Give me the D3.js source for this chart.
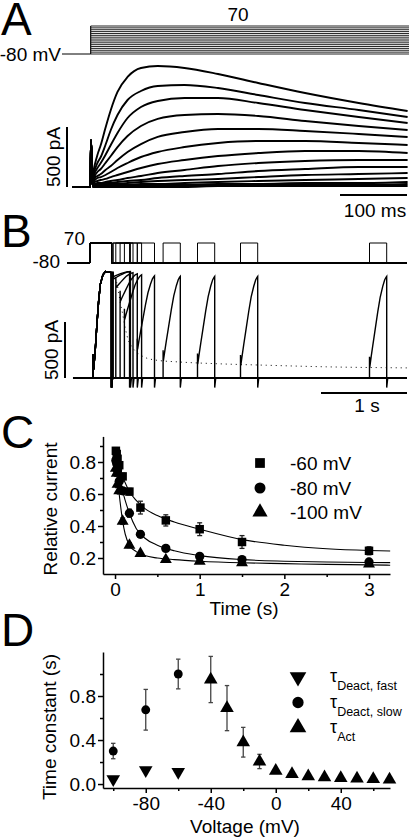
<!DOCTYPE html>
<html><head><meta charset="utf-8">
<script src="https://cdn.jsdelivr.net/npm/d3@7"></script>
<style>
html,body{margin:0;padding:0;background:#fff;}
svg{display:block;}
text{font-family:"Liberation Sans",Arial,sans-serif;fill:#000;}
</style></head><body>
<svg id="fig" width="409" height="839"></svg>
<script>
// ================= DATA =================
// Panel A: voltage-step family (mV) and current traces (pA) sampled at times (ms after step)
const aStepLevels = [-80,-70,-60,-50,-40,-30,-20,-10,0,10,20,30,40,50,60,70];
const aTimes = [3,6,10,15,22,30,40,55,75,100,140,190,250,320,400,473];
const aTraces = [
 [100,183,267,350,492,642,792,917,992,1008,992,942,867,783,700,633],
 [75,142,200,250,350,475,600,725,800,842,850,825,767,700,642,583],
 [58,117,158,200,267,350,450,575,667,717,742,742,700,642,583,533],
 [50,92,125,150,200,258,333,425,508,567,600,608,592,550,508,475],
 [42,75,92,108,142,175,225,292,358,417,458,483,483,467,442,417],
 [33,58,75,83,100,125,158,200,250,292,333,367,383,383,367,350],
 [25,42,50,58,67,83,100,125,158,192,225,258,283,300,300,283],
 [17,25,33,33,42,50,58,75,92,117,142,175,200,217,225,225],
 [17,25,25,25,33,33,42,50,58,75,92,108,133,150,167,167],
 [8,17,17,17,17,25,25,33,42,50,58,67,83,100,108,117],
 [8,8,8,8,17,17,17,17,25,25,33,42,50,58,67,75],
 [8,8,8,8,8,8,8,8,17,17,17,25,25,33,33,42],
 [0,0,0,8,8,8,8,8,8,8,8,8,17,17,17,25],
 [0,0,0,0,0,0,0,0,0,0,0,8,8,8,8,8]
];
const aPreStart = -27;      // ms
const aSpikeTime = 0.4;     // ms
const aSpikeAmp = 390;      // pA

// Panel B: double-pulse protocol (s), relative currents
const bP1Dur = 0.25, bP2Dur = 0.2;
const bIntervals = [0.01,0.02,0.05,0.1,0.15,0.3,0.6,1,1.5,3];
const bOnset = [0.95,0.93,0.85,0.72,0.55,0.27,0.16,0.13,0.115,0.1];
const bPeak  = [1.0,1.0,0.99,0.98,0.97,0.96,0.955,0.955,0.955,0.955];
const bP1T   = [0,0.033,0.036,0.042,0.06,0.08,0.1,0.12,0.15,0.18,0.25];
const bP1Rel = [0,0,0.22,0.08,0.25,0.5,0.72,0.88,0.97,1.0,0.99];
const bRiseT = [0,0.1,0.19,0.3,0.48,0.62,0.77,0.88,0.96,1];
const bRiseF = [0,0.12,0.24,0.38,0.61,0.77,0.89,0.96,0.99,1];
const bAmp = 950;   // pA, peak of first-pulse current
const bTail = -0.09;
const bFitT   = [0.06,0.08,0.1,0.13,0.16,0.19,0.25,0.35,0.5,0.8,1.2,1.8,2.5,3.44];
const bFitRel = [0.9,0.82,0.72,0.6,0.47,0.37,0.28,0.21,0.17,0.15,0.135,0.12,0.105,0.095];

// Panel C: relative current vs time (s)
const cTimes = [0.01,0.02,0.03,0.05,0.09,0.17,0.3,0.6,1,1.5,3];
const cM60 = [0.87,0.85,0.82,0.78,0.71,0.615,0.515,0.435,0.38,0.30,0.245];
const cM60Err = [0.02,0.02,0.02,0.02,0.02,0.02,0.04,0.035,0.04,0.04,0.025];
const cM80 = [0.81,0.79,0.75,0.68,0.62,0.48,0.348,0.26,0.21,0.19,0.175];
const cM80Err = [0.02,0.02,0.02,0.02,0.02,0.025,0.02,0.015,0.015,0.015,0.015];
const cM100 = [0.76,0.73,0.66,0.62,0.43,0.28,0.228,0.19,0.18,0.17,0.162];
const cM100Err = [0.02,0.02,0.02,0.02,0.02,0.015,0.01,0.01,0.01,0.01,0.01];
const cFitT   = [0,0.03,0.06,0.09,0.12,0.17,0.25,0.35,0.5,0.7,1,1.5,2,2.5,3,3.25];
const cFit60  = [0.88,0.83,0.77,0.71,0.67,0.615,0.56,0.51,0.465,0.425,0.38,0.315,0.28,0.258,0.247,0.244];
const cFit80  = [0.82,0.77,0.70,0.62,0.56,0.48,0.385,0.325,0.28,0.245,0.215,0.19,0.18,0.175,0.172,0.171];
const cFit100 = [0.78,0.69,0.55,0.43,0.35,0.28,0.24,0.215,0.2,0.19,0.18,0.17,0.165,0.16,0.157,0.155];
const cLegend = ["-60 mV","-80 mV","-100 mV"];
const cXTicks = [0,1,2,3], cXMinor = [0.5,1.5,2.5];
const cYTicks = [0.2,0.4,0.6,0.8], cYMinor = [0.3,0.5,0.7,0.9];

// Panel D: time constants (s) vs voltage (mV)
const dFastV = [-100,-80,-60];
const dFast  = [0.045,0.127,0.11];
const dSlowV = [-100,-80,-60];
const dSlow  = [0.30,0.675,1.0];
const dSlowErr = [0.07,0.185,0.135];
const dActV = [-40,-30,-20,-10,0,10,20,30,40,50,60,70];
const dAct  = [0.95,0.69,0.38,0.205,0.12,0.09,0.07,0.06,0.055,0.05,0.045,0.04];
const dActErr = [0.21,0.205,0.135,0.065,0,0,0,0,0,0,0,0];
const dLegendSub = ["Deact, fast","Deact, slow","Act"];
const dXTicks = [-80,-40,0,40], dXMinor = [-100,-60,-20,20,60];
const dYTicks = [0,0.4,0.8], dYMinor = [0.2,0.6,1.0];

// ================= DRAW =================
const svg = d3.select('#fig');
const FS = 19;

function txt(x,y,s,size,anchor){
  return svg.append('text').attr('x',x).attr('y',y).attr('font-size',size)
    .attr('text-anchor',anchor||'start').text(s);
}
function vtxt(x,y,s,size){
  return svg.append('text').attr('transform',`translate(${x},${y}) rotate(-90)`)
    .attr('font-size',size).attr('text-anchor','middle').text(s);
}
function seg(x1,y1,x2,y2,w,c){
  return svg.append('line').attr('x1',x1).attr('y1',y1).attr('x2',x2).attr('y2',y2)
    .attr('stroke',c||'#000').attr('stroke-width',w||1);
}

// Panel letters
txt(1,35,'A',46); txt(1,247,'B',46); txt(1,448,'C',46); txt(1,646,'D',46);

// ---------- Panel A ----------
const aX = d3.scaleLinear().domain([0,100]).range([90.7,157.7]);
const aY = d3.scaleLinear().domain([0,500]).range([187,127]);
const aV = d3.scaleLinear().domain([-80,70]).range([54,26]);
txt(238,21,'70',FS,'middle');
txt(61,61,'-80 mV',FS,'end');
seg(62,aV(-80),aX(0),aV(-80),1);
seg(aX(0),aV(-80),aX(0),aV(70),1.2);
aStepLevels.forEach(v=>seg(aX(0),aV(v),409,aV(v),1,'#222'));
const aLine = d3.line().x(d=>aX(d[0])).y(d=>aY(d[1])).curve(d3.curveMonotoneX);
aTraces.slice().reverse().forEach(tr=>{
  const pts=[[aPreStart,0],[-0.3,0],[aSpikeTime,aSpikeAmp]];
  aTimes.forEach((t,k)=>pts.push([t,tr[k]]));
  svg.append('path').attr('d',aLine(pts)).attr('fill','none').attr('stroke','#000').attr('stroke-width',1.9);
});
seg(67,aY(0),67,aY(500),2);
vtxt(60,157,'500 pA',FS);
seg(407-(aX(100)-aX(0)),195,407,195,2);
txt(375,216.5,'100 ms',FS,'middle');

// ---------- Panel B ----------
const bX = d3.scaleLinear().domain([0,1]).range([90,176]);
const bY = d3.scaleLinear().domain([0,500]).range([378,322]);
const bV = d3.scaleLinear().domain([-80,70]).range([263,243]);
const bEnd = 3.686;
txt(85,245,'70',FS,'end');
txt(60,268,'-80',FS,'end');
const bPLine = d3.line().x(d=>bX(d[0])).y(d=>bV(d[1]));
const bCLine = d3.line().x(d=>bX(d[0])).y(d=>bY(d[1]*bAmp));
bIntervals.forEach((iv,i)=>{
  const s2 = bP1Dur+iv, e2 = s2+bP2Dur;
  const p=[[-0.267,-80],[0,-80],[0,70],[bP1Dur,70],[bP1Dur,-80],[s2,-80],[s2,70],[e2,70],[e2,-80],[bEnd,-80]];
  svg.append('path').attr('d',bPLine(p)).attr('fill','none').attr('stroke','#000').attr('stroke-width',1);
});
bIntervals.forEach((iv,i)=>{
  const pts=[[-0.198,0]];
  bP1T.forEach((t,k)=>pts.push([t,bP1Rel[k]]));
  pts.push([bP1Dur,bTail]);
  const s2=bP1Dur+iv, rec=Math.min(0.012,iv*0.5);
  pts.push([bP1Dur+rec,0]); pts.push([s2,0]);
  pts.push([s2,Math.min(bOnset[i]+0.1,1)]);
  pts.push([s2+0.003,bOnset[i]]);
  bRiseT.forEach((f,k)=>{ if(k>0) pts.push([s2+f*bP2Dur, bOnset[i]+(bPeak[i]-bOnset[i])*bRiseF[k]]); });
  const e2=s2+bP2Dur;
  pts.push([e2,bTail]); pts.push([e2+0.012,0]); pts.push([bEnd,0]);
  svg.append('path').attr('d',bCLine(pts)).attr('fill','none').attr('stroke','#000').attr('stroke-width',1.4);
});
seg(bX(-0.198),bY(0),bX(bEnd),bY(0),2);
svg.append('path').attr('d',d3.line().x(d=>bX(bP1Dur+d[0])).y(d=>bY(d[1]*bAmp)).curve(d3.curveMonotoneX)(bFitT.map((t,k)=>[t,bFitRel[k]])))
  .attr('fill','none').attr('stroke','#000').attr('stroke-width',1).attr('stroke-dasharray','1,4');
seg(65,bY(0),65,bY(500),2);
vtxt(58,350,'500 pA',FS);
seg(407-(bX(1)-bX(0)),393,407,393,2);
txt(367,412,'1 s',FS,'middle');

// ---------- axis helper ----------
function styleAxis(g){
  g.attr('font-family',null).attr('font-size',null);
  g.selectAll('.domain').attr('stroke','#000').attr('stroke-width',1.5);
  g.selectAll('.tick line').attr('stroke','#000').attr('stroke-width',1.5);
  g.selectAll('.tick text').attr('font-size',FS).attr('fill','#000');
}
function drawAxes(xS,yS,xAt,yAt,xT,xM,yT,yM,xFmt,yFmt){
  const gx = svg.append('g').attr('transform',`translate(0,${xAt})`)
    .call(d3.axisBottom(xS).tickValues(xT).tickSize(5).tickSizeOuter(0).tickPadding(4).tickFormat(xFmt));
  styleAxis(gx);
  const gxm = svg.append('g').attr('transform',`translate(0,${xAt})`)
    .call(d3.axisBottom(xS).tickValues(xM).tickSize(3).tickSizeOuter(0).tickFormat(''));
  styleAxis(gxm); gxm.select('.domain').remove();
  const gy = svg.append('g').attr('transform',`translate(${yAt},0)`)
    .call(d3.axisLeft(yS).tickValues(yT).tickSize(5).tickSizeOuter(0).tickPadding(2).tickFormat(yFmt));
  styleAxis(gy);
  const gym = svg.append('g').attr('transform',`translate(${yAt},0)`)
    .call(d3.axisLeft(yS).tickValues(yM).tickSize(3).tickSizeOuter(0).tickFormat(''));
  styleAxis(gym); gym.select('.domain').remove();
}
function errBars(xS,yS,xs,ys,es,cap,color){
  xs.forEach((x,i)=>{
    if(!es[i]) return;
    const px=xS(x), y1=yS(ys[i]+es[i]), y2=yS(ys[i]-es[i]);
    seg(px,y1,px,y2,1.3,color); seg(px-cap,y1,px+cap,y1,1.3,color); seg(px-cap,y2,px+cap,y2,1.3,color);
  });
}
function marks(xS,yS,xs,ys,type,size,rot){
  const p=d3.symbol().type(type).size(size)();
  xs.forEach((x,i)=>svg.append('path').attr('d',p)
    .attr('transform',`translate(${xS(x)},${yS(ys[i])})${rot?' rotate(180)':''}`).attr('fill','#000'));
}

// ---------- Panel C ----------
const cX = d3.scaleLinear().domain([-0.142,3.248]).range([103,390]);
const cY = d3.scaleLinear().domain([0.1,0.96]).range([574,436.4]);
drawAxes(cX,cY,574,103,cXTicks,cXMinor,cYTicks,cYMinor,d=>String(d),d3.format('.1f'));
const cFitLine = d3.line().x(d=>cX(d[0])).y(d=>cY(d[1])).curve(d3.curveMonotoneX);
[cFit60,cFit80,cFit100].forEach(f=>svg.append('path').attr('d',cFitLine(cFitT.map((t,k)=>[t,f[k]])))
  .attr('fill','none').attr('stroke','#000').attr('stroke-width',1.1));
errBars(cX,cY,cTimes,cM60,cM60Err,2.5,'#222');
errBars(cX,cY,cTimes,cM80,cM80Err,2.5,'#222');
errBars(cX,cY,cTimes,cM100,cM100Err,2.5,'#222');
marks(cX,cY,cTimes,cM100,d3.symbolTriangle,62);
marks(cX,cY,cTimes,cM80,d3.symbolCircle,68);
marks(cX,cY,cTimes,cM60,d3.symbolSquare,72);
txt(244,615,'Time (s)',FS,'middle');
vtxt(57,509,'Relative current',FS);
const cLegY=[463,488,512], cLegSym=[[d3.symbolSquare,95],[d3.symbolCircle,95],[d3.symbolTriangle,100]];
cLegend.forEach((s,i)=>{
  svg.append('path').attr('d',d3.symbol().type(cLegSym[i][0]).size(cLegSym[i][1])())
    .attr('transform',`translate(260,${cLegY[i]})`).attr('fill','#000');
  txt(290,cLegY[i]+7,s,FS);
});

// ---------- Panel D ----------
const dX = d3.scaleLinear().domain([-106.3,70.3]).range([103,390]);
const dY = d3.scaleLinear().domain([-0.036,1.2]).range([788,652]);
drawAxes(dX,dY,788,103,dXTicks,dXMinor,dYTicks,dYMinor,d=>String(d),d3.format('.1f'));
errBars(dX,dY,dSlowV,dSlow,dSlowErr,2.2,'#444');
errBars(dX,dY,dActV,dAct,dActErr,2.2,'#444');
marks(dX,dY,dFastV,dFast,d3.symbolTriangle,80,true);
marks(dX,dY,dSlowV,dSlow,d3.symbolCircle,62);
marks(dX,dY,dActV,dAct,d3.symbolTriangle,80);
txt(245,833,'Voltage (mV)',FS,'middle');
vtxt(56,727,'Time constant (s)',FS);
const dLegY=[677,702.5,727.5];
const dLegSym=[[d3.symbolTriangle,120,true],[d3.symbolCircle,100,false],[d3.symbolTriangle,120,false]];
dLegendSub.forEach((s,i)=>{
  svg.append('path').attr('d',d3.symbol().type(dLegSym[i][0]).size(dLegSym[i][1])())
    .attr('transform',`translate(298,${dLegY[i]})${dLegSym[i][2]?' rotate(180)':''}`).attr('fill','#000');
  const t=svg.append('text').attr('x',330).attr('y',dLegY[i]+5).attr('font-size',18);
  t.append('tspan').text('τ');
  t.append('tspan').attr('font-size',12.5).attr('dy',8).text(s);
});
</script></body></html>
